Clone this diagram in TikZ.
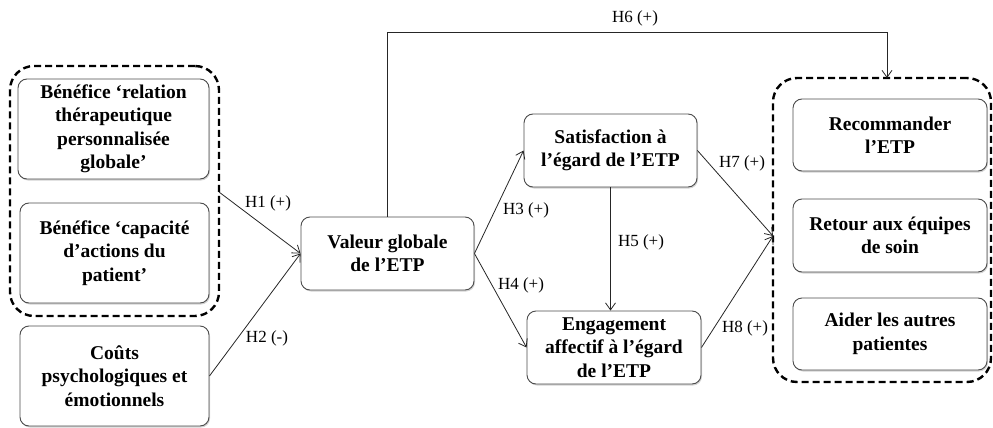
\documentclass[tikz,border=0pt]{standalone}
\usepackage{fontspec}
\setmainfont{Liberation Serif}
\usetikzlibrary{arrows.meta,shadows}
\begin{document}
\begin{tikzpicture}[x=1pt,y=-1pt,
 box/.style={draw=black!70, line width=0.9pt, rounded corners=9pt, fill=white, align=center,
   font=\bfseries\fontsize{19.5}{23.5}\selectfont, inner sep=0pt,
   drop shadow={shadow xshift=1pt,shadow yshift=-1.5pt,opacity=0.35}},
 grp/.style={draw=black, line width=2.4pt, dash pattern=on 7pt off 4pt, rounded corners=24pt, inner sep=0pt},
 conn/.style={draw=black!85, line width=0.8pt, -{Straight Barb[length=7pt,width=10pt]}},
 lbl/.style={font=\fontsize{17}{20}\selectfont, inner sep=0pt}]
\useasboundingbox (0,0) rectangle (993,428);

% groups
\node[grp, minimum width=209pt, minimum height=250pt] (gL) at (114.5,191) {};
\node[grp, minimum width=218pt, minimum height=304pt] (gR) at (882,230) {};

% left boxes
\node[box, minimum width=191pt, minimum height=100pt] (b1) at (113.5,129)
  {Bénéfice ‘relation\\thérapeutique\\personnalisée\\globale’};
\node[box, minimum width=189pt, minimum height=100pt] (b2) at (114.5,253)
  {Bénéfice ‘capacité\\d’actions du\\patient’};
\node[box, minimum width=189pt, minimum height=100pt] (b3) at (114.5,376)
  {Coûts\\psychologiques et\\émotionnels};

% middle boxes
\node[box, minimum width=173pt, minimum height=73pt] (val) at (387.5,253.5)
  {Valeur globale\\de l’ETP};
\node[box, minimum width=173pt, minimum height=73pt] (sat) at (610.5,150.5)
  {Satisfaction à\\l’égard de l’ETP};
\node[box, minimum width=174pt, minimum height=73pt] (eng) at (614,347.5)
  {Engagement\\affectif à l’égard\\de l’ETP};

% right boxes
\node[box, minimum width=194pt, minimum height=72pt] (r1) at (890,135)
  {Recommander\\l’ETP};
\node[box, minimum width=194pt, minimum height=73pt] (r2) at (890,235.5)
  {Retour aux équipes\\de soin};
\node[box, minimum width=194pt, minimum height=72pt] (r3) at (890,334)
  {Aider les autres\\patientes};

% anchor points
\coordinate (h1s) at (219,192);
\coordinate (rin) at (773,236);
\coordinate (h6e) at (887,78);

% connectors
\draw[conn] (h1s) -- (val.west);
\draw[conn] (b3.east) -- (val.west);
\draw[conn] (val.east) -- (sat.west);
\draw[conn] (val.east) -- (eng.west);
\draw[conn] (sat.south) -- (sat.south |- eng.north);
\draw[conn] (val.north) -- ++(0,-184) -| (h6e);
\draw[conn] (sat.east) -- (rin);
\draw[conn] (eng.east) -- (rin);

% labels
\node[lbl] (l1) at (268,203) {H1 (+)};
\node[lbl] (l2) at (267,338) {H2 (-)};
\node[lbl] (l3) at (526,210) {H3 (+)};
\node[lbl] (l4) at (521,285) {H4 (+)};
\node[lbl] (l5) at (641,242) {H5 (+)};
\node[lbl] (l6) at (635,18) {H6 (+)};
\node[lbl] (l7) at (742,163) {H7 (+)};
\node[lbl] (l8) at (745,328) {H8 (+)};
\end{tikzpicture}
\end{document}
